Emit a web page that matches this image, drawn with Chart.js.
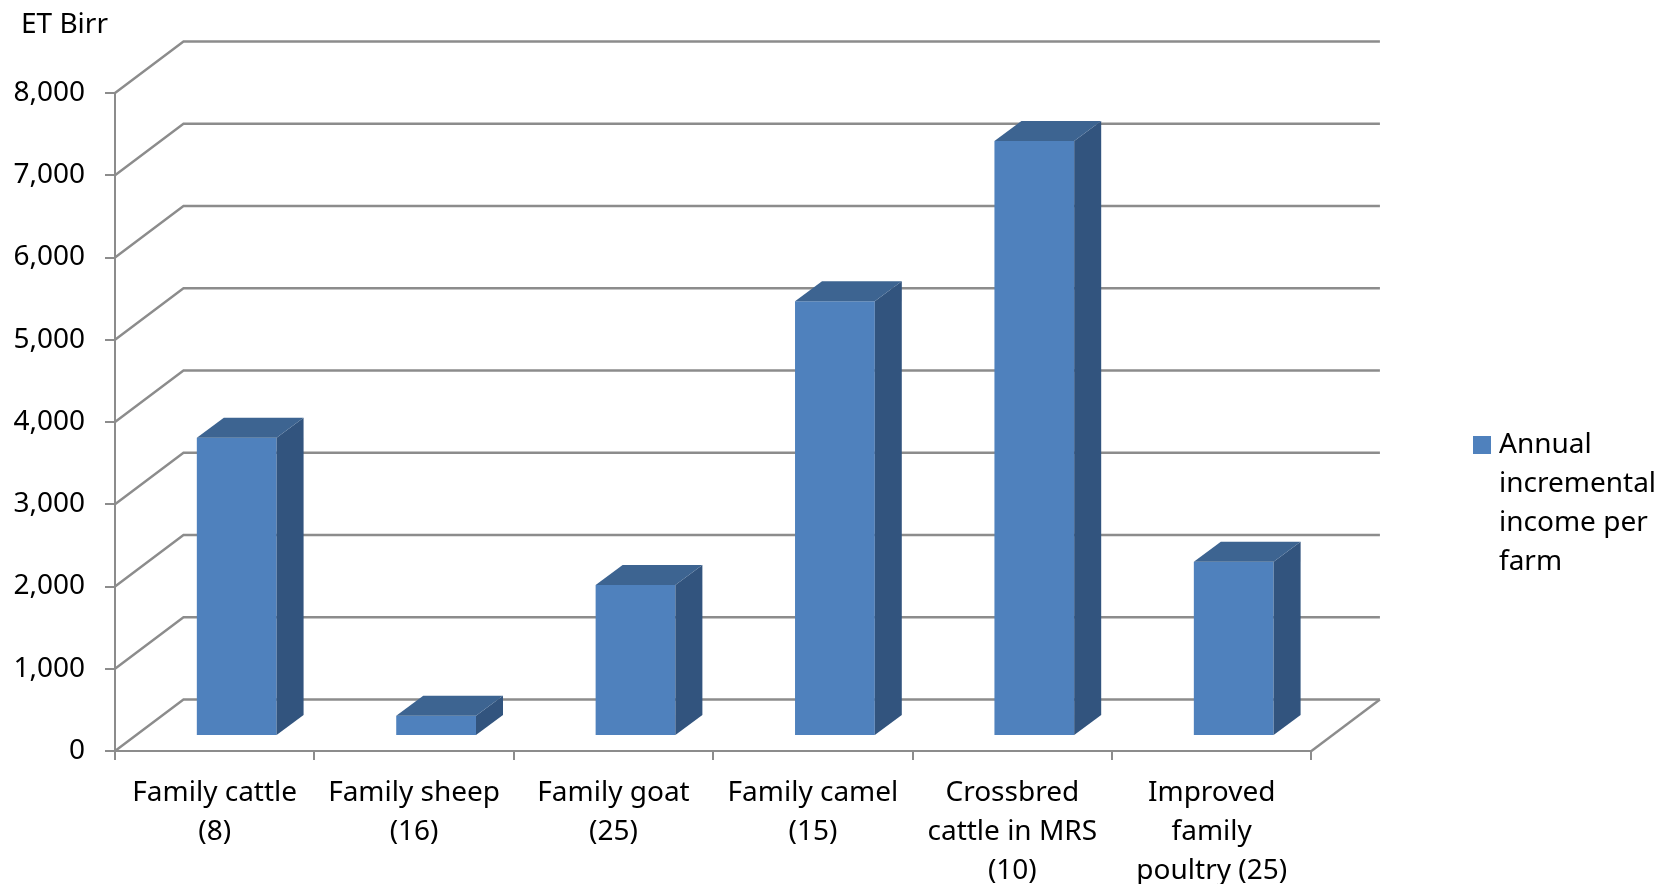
<!DOCTYPE html>
<html>
<head>
<meta charset="utf-8">
<title>Annual incremental income per farm</title>
<script src="https://cdn.jsdelivr.net/npm/chart.js@4"></script>
<style>
    html, body { margin: 0; padding: 0; background: #fff; }
    canvas { display: block; }
</style>
</head>
<body>
<canvas id="chart" width="1658" height="884"></canvas>
<script>
// Chart data
const categories = [
    ['Family cattle', '(8)'],
    ['Family sheep', '(16)'],
    ['Family goat', '(25)'],
    ['Family camel', '(15)'],
    ['Crossbred', 'cattle in MRS', '(10)'],
    ['Improved', 'family', 'poultry (25)']
];
const incomePerFarm = [3625, 245, 1835, 5285, 7235, 2120];
const seriesLabel = ['Annual', 'incremental', 'income per', 'farm'];
const unitLabel = 'ET Birr';
const axisMax = 8000;
const axisStep = 1000;

const fontFamily = '"Noto Sans"';
const fontSize = 28;
const lineGap = 39 / 28;
const gridColor = '#8c8c8c';
const frontColor = '#4f81bd';
const sideColor = '#32547e';
const topColor = '#3d6491';

// back wall and floor
const wall3d = {
    id: 'wall3d',
    beforeDatasetsDraw(chart) {
        const { ctx, scales: { x, y } } = chart;
        const depthX = 68.5, depthY = -51.5;
        ctx.save();
        ctx.strokeStyle = gridColor;
        ctx.lineWidth = 2.4;
        y.ticks.forEach(function (tick) {
            const py = y.getPixelForValue(tick.value);
            ctx.beginPath();
            ctx.moveTo(x.left, py);
            ctx.lineTo(x.left + depthX, py + depthY);
            ctx.lineTo(x.right + depthX, py + depthY);
            ctx.stroke();
        });
        const base = y.getPixelForValue(0);
        ctx.beginPath();
        ctx.moveTo(x.right, base);
        ctx.lineTo(x.right + depthX, base + depthY);
        ctx.stroke();
        ctx.restore();
    },
    // bars stand a bit inside the floor
    beforeDatasetDraw(chart) {
        chart.ctx.save();
        chart.ctx.translate(22, -15);
    },
    afterDatasetDraw(chart, args) {
        const ctx = chart.ctx;
        const sideX = 27, sideY = -20;
        args.meta.data.forEach(function (bar) {
            const p = bar.getProps(['x', 'y', 'base', 'width'], true);
            const right = p.x + p.width / 2;
            const left = p.x - p.width / 2;
            ctx.fillStyle = sideColor;
            ctx.beginPath();
            ctx.moveTo(right, p.y);
            ctx.lineTo(right + sideX, p.y + sideY);
            ctx.lineTo(right + sideX, p.base + sideY);
            ctx.lineTo(right, p.base);
            ctx.closePath();
            ctx.fill();
            ctx.fillStyle = topColor;
            ctx.beginPath();
            ctx.moveTo(left, p.y);
            ctx.lineTo(left + sideX, p.y + sideY);
            ctx.lineTo(right + sideX, p.y + sideY);
            ctx.lineTo(right, p.y);
            ctx.closePath();
            ctx.fill();
        });
        ctx.restore();
    }
};

// title and legend sit away from their default spots
const boxPlace = {
    id: 'boxPlace',
    afterLayout(chart) {
        chart.titleBlock.left = 21;
        chart.legend.left = 1469;
        chart.legend.right = 1658;
        chart.legend.top = 421;
        chart.legend.bottom = 884;
    }
};

new Chart(document.getElementById('chart'), {
    type: 'bar',
    data: {
        labels: categories,
        datasets: [{
            label: seriesLabel,
            data: incomePerFarm,
            backgroundColor: frontColor,
            barPercentage: 0.4,
            categoryPercentage: 1
        }]
    },
    plugins: [wall3d, boxPlace],
    options: {
        responsive: false,
        animation: false,
        layout: { padding: { left: 0, right: 149.5, top: 0, bottom: 0 } },
        plugins: {
            tooltip: { enabled: false },
            title: {
                display: true,
                text: unitLabel,
                align: 'start',
                color: '#000',
                font: { family: fontFamily, size: fontSize, weight: 'normal', lineHeight: 1.2 },
                padding: { top: 8, bottom: 51.4 }
            },
            legend: {
                position: 'right',
                align: 'start',
                labels: {
                    color: '#000',
                    // small box with a thick border: keeps the text close to the swatch
                    boxWidth: 6,
                    boxHeight: 6,
                    font: { family: fontFamily, size: fontSize, lineHeight: lineGap },
                    generateLabels() {
                        return [{ text: seriesLabel, fillStyle: frontColor, lineWidth: 12, strokeStyle: frontColor }];
                    }
                }
            }
        },
        scales: {
            x: {
                afterFit(scale) { scale.height = 133; },
                grid: { drawOnChartArea: false, color: gridColor, lineWidth: 2, tickLength: 9 },
                border: { color: gridColor, width: 2 },
                ticks: {
                    color: '#000',
                    maxRotation: 0,
                    autoSkip: false,
                    padding: 14,
                    font: { family: fontFamily, size: fontSize, lineHeight: lineGap }
                }
            },
            y: {
                min: 0,
                max: axisMax,
                afterFit(scale) { scale.width = 115; },
                grid: { drawOnChartArea: false, color: gridColor, lineWidth: 2, tickLength: 10 },
                border: { color: gridColor, width: 2 },
                ticks: {
                    color: '#000',
                    stepSize: axisStep,
                    padding: 20,
                    font: { family: fontFamily, size: fontSize },
                    callback: function (value) { return value.toLocaleString('en-US'); }
                }
            }
        }
    }
});
</script>
</body>
</html>
